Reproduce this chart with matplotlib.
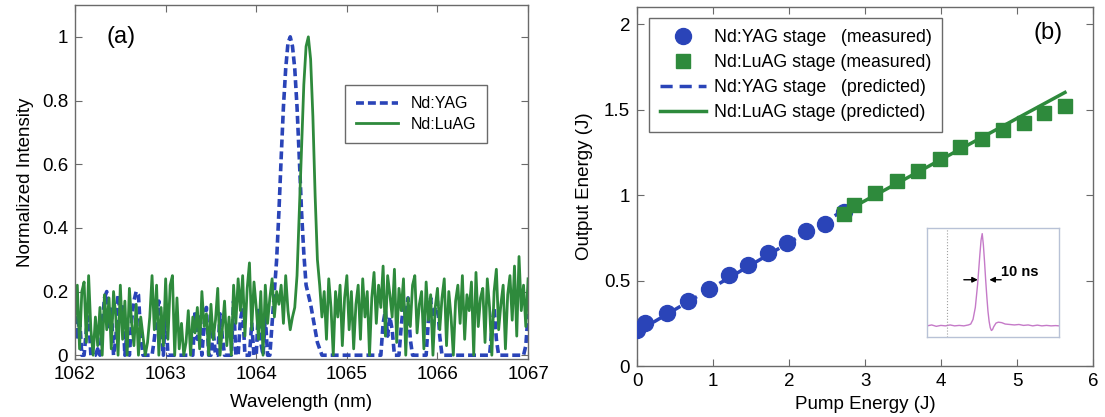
import numpy as np
import matplotlib
matplotlib.use("Agg")
from matplotlib import pyplot as plt

plt.rcParams['font.family'] = ['Liberation Sans', 'DejaVu Sans']

# ---- panel (a): normalized spectra, 0.025 nm sampling from 1062 to 1067 nm
wl_start, wl_stop = 1062.0, 1067.0
yag_spec = [
  0.16, 0.05, 0.12, 0.0, 0.0, 0.08, 0.12, 0.0, 0.0, 0.0,
  0.02, 0.0, 0.10, 0.18, 0.20, 0.08, 0.15, 0.0, 0.05, 0.19,
  0.12, 0.16, 0.0, 0.08, 0.0, 0.11, 0.17, 0.20, 0.19, 0.06,
  0.0, 0.0, 0.0, 0.0, 0.0, 0.05, 0.12, 0.17, 0.10, 0.0,
  0.15, 0.0, 0.0, 0.0, 0.0, 0.0, 0.0, 0.0, 0.0, 0.0,
  0.0, 0.0, 0.0, 0.14, 0.05, 0.12, 0.0, 0.10, 0.15, 0.0,
  0.0, 0.08, 0.0, 0.0, 0.13, 0.06, 0.0, 0.0, 0.0, 0.0,
  0.17, 0.0, 0.0, 0.11, 0.15, 0.0, 0.0, 0.0, 0.10, 0.0,
  0.0, 0.15, 0.04, 0.0, 0.12, 0.0, 0.0, 0.10, 0.20, 0.30,
  0.45, 0.62, 0.78, 0.90, 0.98, 1.0, 0.97, 0.90, 0.78, 0.62,
  0.45, 0.32, 0.22, 0.19, 0.16, 0.12, 0.08, 0.04, 0.02, 0.0,
  0.0, 0.0, 0.0, 0.0, 0.0, 0.0, 0.0, 0.0, 0.0, 0.0,
  0.0, 0.0, 0.0, 0.0, 0.0, 0.0, 0.0, 0.0, 0.0, 0.0,
  0.0, 0.0, 0.0, 0.0, 0.0, 0.0, 0.10, 0.14, 0.06, 0.12,
  0.08, 0.0, 0.0, 0.0, 0.09, 0.16, 0.12, 0.18, 0.05, 0.0,
  0.0, 0.0, 0.0, 0.0, 0.0, 0.0, 0.11, 0.18, 0.08, 0.15,
  0.17, 0.06, 0.0, 0.0, 0.0, 0.0, 0.0, 0.0, 0.0, 0.0,
  0.0, 0.0, 0.0, 0.0, 0.0, 0.0, 0.0, 0.0, 0.0, 0.0,
  0.0, 0.0, 0.0, 0.0, 0.08, 0.15, 0.05, 0.0, 0.0, 0.0,
  0.0, 0.0, 0.0, 0.0, 0.0, 0.0, 0.0, 0.0, 0.0, 0.03, 0.13,
]
luag_spec = [
  0.10, 0.22, 0.02, 0.20, 0.23, 0.04, 0.25, 0.08, 0.0, 0.12,
  0.03, 0.15, 0.0, 0.19, 0.08, 0.18, 0.02, 0.20, 0.12, 0.0,
  0.22, 0.05, 0.17, 0.0, 0.21, 0.10, 0.03, 0.16, 0.0, 0.12,
  0.06, 0.0, 0.04, 0.12, 0.25, 0.08, 0.22, 0.0, 0.15, 0.03,
  0.24, 0.05, 0.22, 0.25, 0.0, 0.18, 0.02, 0.10, 0.0, 0.04,
  0.14, 0.0, 0.12, 0.07, 0.15, 0.02, 0.20, 0.09, 0.13, 0.0,
  0.16, 0.05, 0.11, 0.21, 0.0, 0.08, 0.17, 0.03, 0.12, 0.0,
  0.22, 0.10, 0.24, 0.14, 0.25, 0.06, 0.21, 0.29, 0.08, 0.23,
  0.15, 0.05, 0.20, 0.0, 0.22, 0.10, 0.18, 0.24, 0.12, 0.20,
  0.16, 0.22, 0.10, 0.25, 0.14, 0.08, 0.12, 0.15, 0.25, 0.45,
  0.65, 0.85, 0.97, 1.0, 0.93, 0.75, 0.50, 0.30, 0.22, 0.12,
  0.20, 0.05, 0.24, 0.15, 0.0, 0.20, 0.12, 0.22, 0.03, 0.18,
  0.25, 0.08, 0.20, 0.02, 0.16, 0.22, 0.05, 0.24, 0.12, 0.20,
  0.0, 0.18, 0.26, 0.10, 0.22, 0.15, 0.28, 0.06, 0.25, 0.19,
  0.12, 0.27, 0.04, 0.21, 0.14, 0.24, 0.0, 0.18, 0.09, 0.22,
  0.25, 0.07, 0.16, 0.20, 0.02, 0.23, 0.11, 0.19, 0.0, 0.15,
  0.21, 0.08, 0.18, 0.24, 0.03, 0.20, 0.12, 0.0, 0.17, 0.22,
  0.10, 0.25, 0.05, 0.19, 0.14, 0.23, 0.0, 0.26, 0.09, 0.18,
  0.21, 0.04, 0.24, 0.15, 0.0, 0.20, 0.27, 0.08, 0.16, 0.22,
  0.02, 0.19, 0.25, 0.11, 0.28, 0.06, 0.31, 0.14, 0.22, 0.09, 0.24,
]

# ---- panel (b): amplifier output
yag_pump = [0.0, 0.11, 0.4, 0.67, 0.95, 1.21, 1.46, 1.72, 1.97, 2.22, 2.47, 2.72]
yag_out = [0.21, 0.25, 0.31, 0.38, 0.45, 0.53, 0.59, 0.66, 0.72, 0.79, 0.83, 0.90]
luag_pump = [2.72, 2.86, 3.13, 3.42, 3.70, 3.98, 4.25, 4.54, 4.81, 5.09, 5.36, 5.63]
luag_out = [0.89, 0.94, 1.01, 1.08, 1.14, 1.21, 1.28, 1.33, 1.38, 1.42, 1.48, 1.52]
yag_pred_pump = [0.0, 2.72]
yag_pred_out = [0.20, 0.91]
luag_pred_pump = [2.68, 5.63]
luag_pred_out = [0.89, 1.60]

# ---- inset: pulse shape (ns, arb.)
pulse_t = [-48, -44, -40, -36, -32, -28, -24, -20, -16, -12, -10, -8, -6, -4, -2,
           -1, 0, 1, 2, 3, 4, 5, 6, 7, 8, 9, 10, 12, 14, 17, 20, 24, 28, 32, 36,
           40, 44, 48, 52, 56, 60, 64, 67]
pulse_v = [0.0, 0.01, -0.005, 0.005, 0.0, 0.01, 0.0, 0.005, 0.0, 0.01, 0.02, 0.07,
           0.2, 0.45, 0.78, 0.93, 1.0, 0.88, 0.7, 0.5, 0.32, 0.16, 0.05, -0.02,
           -0.05, -0.04, -0.01, 0.03, 0.04, 0.035, 0.02, 0.015, 0.01, 0.015, 0.005,
           0.01, 0.0, 0.008, 0.0, 0.005, 0.0, 0.003, 0.0]
marker_t = -31.0

blue = '#2a44b8'
green = '#2e8a3c'
frame = '#6a6a6a'


def matlab_axes(ax):
  for s in ax.spines.values():
    s.set_color(frame)
    s.set_linewidth(1.0)
  ax.tick_params(direction='in', top=True, right=True, length=5,
                 color=frame, labelsize=13.5, pad=5)


fig = plt.figure(figsize=(11.05, 4.17), dpi=100)

# panel (a)
ax1 = fig.add_axes([0.0679, 0.139, 0.410, 0.849])
wl = np.linspace(wl_start, wl_stop, len(luag_spec))
ax1.plot(wl, yag_spec, color=blue, lw=2.6, dashes=(2.2, 1.1), label='Nd:YAG')
ax1.plot(wl, luag_spec, color=green, lw=2.0, label='Nd:LuAG')
ax1.set_xlim(1062, 1067)
ax1.set_ylim(-0.012, 1.1)
ax1.set_xticks([1062, 1063, 1064, 1065, 1066, 1067])
ax1.set_yticks([0, 0.2, 0.4, 0.6, 0.8, 1])
ax1.set_yticklabels(['0', '0.2', '0.4', '0.6', '0.8', '1'])
matlab_axes(ax1)
ax1.set_xlabel('Wavelength (nm)', fontsize=13.5, labelpad=8)
ax1.set_ylabel('Normalized Intensity', fontsize=13.5, labelpad=6)
ax1.text(1062.35, 1.0, '(a)', fontsize=17, va='center', ha='left')
leg1 = ax1.legend(loc='upper left', bbox_to_anchor=(0.596, 0.774), fontsize=11.5,
                  fancybox=False, framealpha=1, edgecolor=frame, borderaxespad=0,
                  handlelength=2.6, borderpad=0.7, labelspacing=0.35)
leg1.get_frame().set_linewidth(1.0)

# panel (b)
ax2 = fig.add_axes([0.5765, 0.1223, 0.4127, 0.861])
ax2.plot(yag_pred_pump, yag_pred_out, color=blue, lw=2.5, dashes=(3.5, 2),
         label='Nd:YAG stage   (predicted)', zorder=2)
ax2.plot(luag_pred_pump, luag_pred_out, color=green, lw=2.5,
         label='Nd:LuAG stage (predicted)', zorder=2)
ax2.plot(yag_pump, yag_out, 'o', color=blue, ms=11.5, mec=blue,
         label='Nd:YAG stage   (measured)', zorder=3)
ax2.plot(luag_pump, luag_out, 's', color=green, ms=10, mec=green,
         label='Nd:LuAG stage (measured)', zorder=4)
ax2.set_xlim(0, 6)
ax2.set_ylim(0, 2.1)
ax2.set_xticks([0, 1, 2, 3, 4, 5, 6])
ax2.set_yticks([0, 0.5, 1, 1.5, 2])
ax2.set_yticklabels(['0', '0.5', '1', '1.5', '2'])
matlab_axes(ax2)
ax2.set_xlabel('Pump Energy (J)', fontsize=13.5, labelpad=4)
ax2.set_ylabel('Output Energy (J)', fontsize=13.5, labelpad=8)
ax2.text(5.21, 1.95, '(b)', fontsize=17, va='center', ha='left')
h, l = ax2.get_legend_handles_labels()
order = [2, 3, 0, 1]
leg2 = ax2.legend([h[i] for i in order], [l[i] for i in order],
                  loc='upper left', bbox_to_anchor=(0.026, 0.969), fontsize=12.8,
                  fancybox=False, framealpha=1, edgecolor=frame, borderaxespad=0,
                  handlelength=2.6, borderpad=0.6, labelspacing=0.46,
                  handletextpad=0.45)
leg2.get_frame().set_linewidth(1.0)

# inset pulse
ax3 = fig.add_axes([0.839, 0.192, 0.1195, 0.261])
ax3.plot(pulse_t, pulse_v, color='#c57ac8', lw=1.0)
ax3.axvline(marker_t, color='#a0a0a0', lw=0.8, ls=':')
ax3.set_xlim(-48, 67)
ax3.set_ylim(-0.12, 1.06)
ax3.set_xticks([])
ax3.set_yticks([])
for s in ax3.spines.values():
  s.set_color('#b8c2d6')
  s.set_linewidth(1.0)
ax3.annotate('', xy=(-3.8, 0.5), xytext=(-16, 0.5),
             arrowprops=dict(arrowstyle='-|>', color='black', lw=1.0,
                             mutation_scale=8, shrinkA=0, shrinkB=0))
ax3.annotate('', xy=(6.2, 0.5), xytext=(16.5, 0.5),
             arrowprops=dict(arrowstyle='-|>', color='black', lw=1.0,
                             mutation_scale=8, shrinkA=0, shrinkB=0))
ax3.text(16.5, 0.58, '10 ns', fontsize=10.5, fontweight='bold', va='center', ha='left')

fig.savefig('out.png', dpi=100)
